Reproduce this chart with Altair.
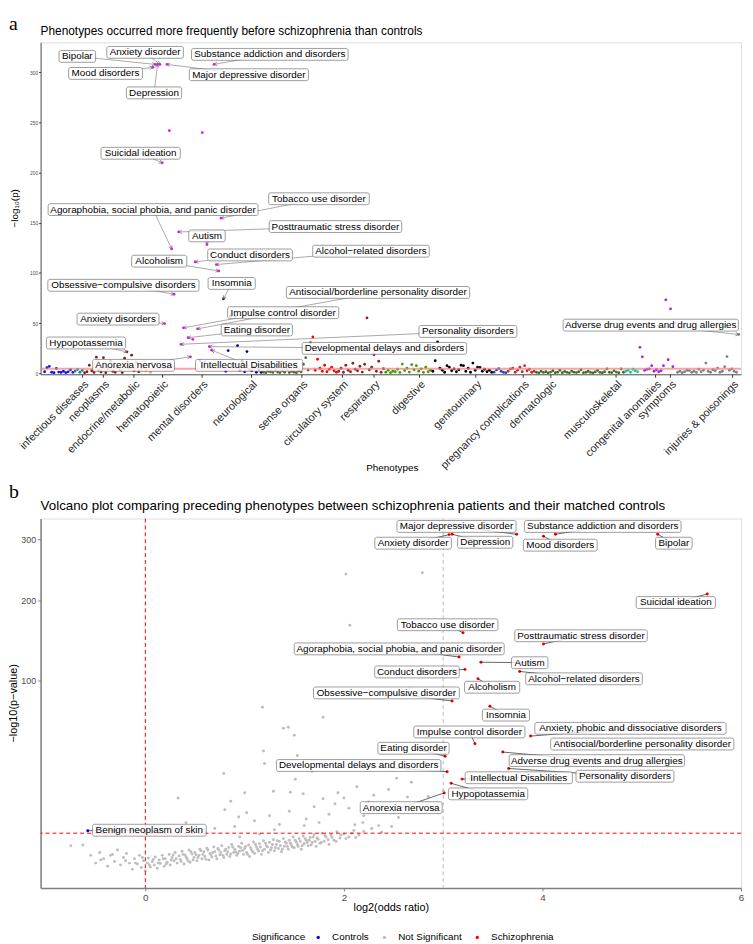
import json
import altair as alt
import pandas as pd

FONT = "Liberation Sans"
SERIF = "Liberation Serif"

# ======================= Panel a : PheWAS Manhattan =======================
a_groups = ["infectious diseases", "neoplasms", "endocrine/metabolic", "hematopoietic",
            "mental disorders", "neurological", "sense organs", "circulatory system",
            "respiratory", "digestive", "genitourinary", "pregnancy complications",
            "dermatologic", "musculoskeletal", "congenital anomalies", "symptoms",
            "injuries & poisonings"]
a_colors = ["#1010F0", "#008B8B", "#8B1A1A", "#F4A460", "#FF00FF", "#00008B", "#556B2F",
            "#FF0000", "#8B2323", "#3CA000", "#000000", "#2747B5", "#CD2626", "#3B6E22",
            "#00D39A", "#A020F0", "#808080"]

p_infectious = [1.5, 5.5, 6.8, 1.0, 0.5, 4.8, 1.2, 0.8, 2.0, 0.6, 1.4, 3.5, 0.9]
p_neoplasms = [2.2, 3.8, 1.0, 2.8]
p_endocrine = [0.5, 1.5, 8.0, 2.5, 0.8, 16.0, 3.0, 1.2, 15.5, 0.6, 4.5, 12.0, 2.0, 1.0,
               6.0, 3.5, 0.7, 15.0, 21.4, 5.0, 18.0, 2.5, 11.0, 1.5]
p_hematopoietic = [4.0, 12.0, 2.5, 7.0, 1.0]
p_mental = [305, 308, 308, 308, 209.8, 49.6, 308, 242, 124, 78.8, 90.3, 140.9, 28.9, 45.3,
            164, 35.5, 16.4, 33.8, 111, 44.3, 12.5, 240, 10.8, 128.4, 26.6, 23.0, 308,
            108.4, 102, 154.7]
p_neurological = [74.2, 2.0, 22.6, 57.0, 8.0, 57.0, 27.5, 3.0, 12.0, 1.5, 21.6, 4.0, 2.5,
                  6.0, 1.0, 3.5, 0.8]
p_sense = [1.0, 0.5, 2.0, 1.5, 0.8, 3.0, 1.2, 0.6, 2.5, 1.0, 4.0, 0.7, 1.8, 1.1, 0.5, 2.2,
           1.4, 9.0, 15.5, 3.2]
p_circulatory = [30.5, 36.2, 3.0, 14.0, 5.0, 2.0, 8.0, 1.5, 4.0, 6.0, 2.5, 1.0]
p_respiratory = [2.0, 5.0, 1.0, 8.0, 3.0, 1.5, 10.0, 4.0, 2.5, 7.0, 1.2, 9.0, 55.2, 3.5,
                 6.0, 18.4, 2.0, 12.0, 1.0, 4.5]
p_digestive = [1.0, 3.0, 0.5, 2.0, 1.5, 4.0, 0.8, 9.2, 2.7, 5.0, 1.2, 8.6, 3.5, 7.6, 2.0,
               4.3, 0.9, 6.0, 1.5, 3.0]
p_genitourinary = [2.0, 12.5, 31.2, 5.0, 3.0, 1.0, 7.6, 6.0, 2.5, 4.3, 1.5, 3.5, 8.0, 7.6,
                   2.0, 5.0, 1.0, 10.2, 3.0, 6.0, 5.9, 2.0, 4.0, 1.5, 3.0, 1.0]
p_pregnancy = [1.0, 3.3, 4.5, 2.0, 1.0, 0.5]
p_dermatologic = [2.0, 4.3, 5.0, 1.0, 3.0, 6.0, 1.5, 7.6, 2.5, 4.0, 1.0, 2.0]
p_musculoskeletal = [1.0, 0.4, 2.0, 0.8, 1.5, 0.3, 1.2, 2.5, 0.6, 1.0, 3.0, 0.5, 1.8, 0.9,
                     0.4, 2.2, 1.1, 0.7, 1.5, 3.5, 0.6, 1.0, 2.0, 0.8, 0.4, 1.3, 2.8, 0.9,
                     0.5, 1.6, 4.3, 1.0, 0.7, 2.4, 1.2, 0.5, 4.3, 1.0]
p_congenital = [2.0, 3.0, 1.0, 4.0, 2.5, 1.5]
p_symptoms = [25.9, 16.4, 3.0, 4.0, 4.3, 7.6, 2.0, 3.5, 1.5, 2.5, 7.6, 73.2, 13.5, 64.3,
              6.6, 50.2]
p_injuries = [1.0, 2.0, 0.5, 1.5, 3.0, 2.7, 1.0, 2.0, 0.8, 4.0, 1.5, 3.0, 10.2, 2.0, 1.0,
              3.5, 2.5, 5.2, 1.0, 2.0, 6.6, 16.7, 3.0, 4.3, 2.0, 1.0, 38.7]
a_values = [p_infectious, p_neoplasms, p_endocrine, p_hematopoietic, p_mental,
            p_neurological, p_sense, p_circulatory, p_respiratory, p_digestive,
            p_genitourinary, p_pregnancy, p_dermatologic, p_musculoskeletal,
            p_congenital, p_symptoms, p_injuries]

# x-axis label positions (phenotype rank)
a_tick_rank = [16.0, 24.8, 37.8, 49.9, 66.7, 87.7, 109.1, 126.3, 139.8, 159.1, 183.0,
               203.2, 214.9, 242.6, 259.4, 265.8, 292.2]

# labelled phenotypes: text, group, member index in group, label x (rank), label y
a_lab_text = ["Bipolar", "Anxiety disorder", "Substance addiction and disorders",
              "Mood disorders", "Major depressive disorder", "Depression",
              "Suicidal ideation", "Tobacco use disorder",
              "Agoraphobia, social phobia, and panic disorder",
              "Posttraumatic stress disorder", "Autism", "Conduct disorders",
              "Alcohol\u2212related disorders", "Alcoholism",
              "Obsessive\u2212compulsive disorders", "Insomnia",
              "Antisocial/borderline personality disorder", "Impulse control disorder",
              "Anxiety disorders", "Eating disorder", "Personality disorders",
              "Developmental delays and disorders", "Intellectual Disabilities",
              "Hypopotassemia", "Anorexia nervosa",
              "Adverse drug events and drug allergies"]
a_lab_group = (["mental disorders"] * 15 + ["neurological"] + ["mental disorders"] * 7
               + ["endocrine/metabolic", "mental disorders", "injuries & poisonings"])
a_lab_member = [1, 3, 26, 0, 6, 2, 4, 29, 8, 11, 23, 18, 27, 28, 9, 0, 13, 19, 5, 15, 12,
                24, 25, 18, 16, 26]
a_lab_x = [13.9, 42.7, 95.7, 25.9, 86.8, 46.5, 40.8, 116.6, 46.1, 123.6, 69.0, 87.3, 138.7,
           48.7, 33.5, 79.5, 141.7, 101.4, 31.2, 90.2, 179.9, 144.4, 86.9, 17.6, 37.8,
           257.6]
a_lab_y = [316, 320, 318, 299, 297.7, 279.6, 219.4, 174, 163.2, 146.3, 137, 118, 121.7,
           111.8, 87.7, 89.6, 80.6, 60.4, 54, 43.2, 41.7, 24.8, 7.9, 30.2, 7.9, 48]

threshold = 4.4

# ======================= Panel b : Volcano =======================
grey_x = [-0.55, -0.5, -0.46, -0.42, -0.38, -0.35, -0.31, -0.28, -0.25, -0.22, -0.19, -0.16,
          -0.13, -0.11, -0.08, -0.06, -0.04, -0.02, 0.0, 0.02, 0.03, 0.05, 0.07, 0.09, 0.1,
          0.12, 0.14, 0.15, 0.17, 0.19, 0.2, 0.22, 0.24, 0.25, 0.27, 0.29, 0.3, 0.32, 0.34,
          0.35, 0.37, 0.39, 0.4, 0.42, 0.44, 0.45, 0.47, 0.49, 0.5, 0.52, 0.54, 0.55, 0.57,
          0.59, 0.6, 0.62, 0.64, 0.65, 0.67, 0.69, 0.7, 0.72, 0.74, 0.75, 0.77, 0.79, 0.8,
          0.82, 0.84, 0.85, 0.87, 0.89, 0.9, 0.92, 0.94, 0.95, 0.97, 0.99, 1.0, 1.02, 1.04,
          1.05, 1.07, 1.09, 1.1, 1.12, 1.14, 1.15, 1.17, 1.19, 1.2, 1.22, 1.24, 1.25, 1.27,
          1.29, 1.3, 1.32, 1.34, 1.35, 1.37, 1.39, 1.4, 1.42, 1.44, 1.45, 1.47, 1.49, 1.5,
          1.52, 1.54, 1.55, 1.57, 1.59, 1.6, 1.62, 1.64, 1.66, 1.68, 1.7, 1.72, 1.74, 1.76,
          1.78, 1.8, 1.82, 1.85, 1.87, 1.9, 1.93, 1.96, 2.0, 2.05, 2.1, 2.15,
          -0.75, -0.63, 0.33, 0.41, 0.79, 0.86, 0.8, 1.0, 0.94, 1.02, 1.18, 1.19, 1.2, 1.29,
          1.39, 1.44, 1.5, 1.53, 1.46, 1.51, 1.79, 1.68, 1.59, 1.94, 2.13, 2.0, 1.91, 2.19,
          2.11, 1.79, 2.66, 2.65, 2.53, 2.68, 2.64, 3.0, 2.25, 2.4, 2.62, 2.51, 2.02, 2.06,
          2.79, 0.6, 0.7, 0.9, 1.1, 1.25, 1.35, 1.45, 1.62, 1.7, 1.85, 2.05, 2.2, 2.3, 2.45,
          2.55, 2.7, 2.85, 2.9, 1.15, 0.95, 1.3, 1.6, 1.75, 2.35,
          -0.45, -0.33, -0.2, -0.1, -0.03, 0.04, 0.08, 0.13, 0.18, 0.21, 0.26, 0.28, 0.31,
          0.36, 0.38, 0.41, 0.43, 0.46, 0.48, 0.51, 0.53, 0.56, 0.58, 0.61, 0.63, 0.66,
          0.68, 0.71, 0.73, 0.76, 0.78, 0.81, 0.83, 0.86, 0.88, 0.91, 0.93, 0.96, 0.98,
          1.01, 1.03, 1.06, 1.08, 1.11, 1.13, 1.16, 1.18, 1.21, 1.23, 1.26, 1.28, 1.31,
          1.33, 1.36, 1.38, 1.41, 1.43, 1.46, 1.48, 1.51, 1.53, 1.56, 1.58, 1.61, 1.63,
          1.65, 1.67, 1.69, 1.71, 1.73, 1.77, 1.81, 1.84, 1.88, 1.92, 1.97, 2.02, 2.08,
          2.12, 2.2, 2.28, 2.38, 2.48]
grey_y = [0.9, 0.3, 1.2, 0.6, 0.15, 0.9, 0.4, 1.5, 0.2, 0.7, 1.1, 0.3, 0.05, 0.6, 0.25, 0.9,
          0.1, 0.45, 0.02, 0.3, 0.65, 0.12, 0.4, 0.2, 0.75, 0.08, 0.5, 0.28, 0.9, 0.15, 0.6,
          0.35, 1.0, 0.2, 0.7, 0.45, 1.2, 0.3, 0.85, 0.55, 1.35, 0.25, 0.95, 0.6, 1.5, 0.35,
          1.05, 0.7, 1.2, 0.45, 0.9, 1.6, 0.6, 1.3, 0.8, 1.75, 0.5, 1.1, 0.75, 1.9, 1.3, 0.6,
          1.5, 0.95, 2.1, 0.7, 1.4, 1.0, 1.85, 0.8, 2.3, 1.2, 1.6, 0.9, 2.0, 1.35, 2.5, 1.0,
          1.7, 1.2, 2.2, 0.8, 1.5, 2.7, 1.1, 1.9, 1.35, 2.4, 1.0, 2.9, 1.6, 2.1, 1.2, 2.6,
          1.8, 3.1, 1.4, 2.3, 1.7, 2.8, 1.3, 3.3, 2.0, 2.5, 1.6, 3.0, 2.2, 3.6, 1.8, 2.7, 2.0,
          3.3, 1.6, 3.8, 2.4, 3.0, 2.1, 3.5, 2.6, 4.1, 2.0, 3.2, 2.5, 4.4, 2.8, 3.6, 2.3, 4.0,
          3.0, 4.7, 3.4, 4.2, 3.6, 5.0, 4.0,
          2.1, 2.2, 15.4, 7.0, 26.9, 14.1, 11.0, 17.6, 8.6, 10.0, 74.3, 40.4, 32.6, 18.2,
          56.7, 57.5, 51.4, 37.5, 17.8, 23.9, 65.6, 28.1, 17.1, 17.6, 20.3, 15.4, 13.1, 7.0,
          6.4, 15.1, 92.2, 29.3, 24.5, 22.4, 15.8, 18.5, 13.8, 13.1, 13.1, 10.2, 240.8,
          165.6, 243.0, 4.5, 5.5, 6.0, 7.5, 9.0, 6.5, 10.5, 8.0, 12.0, 9.5, 11.5, 9.0, 16.5,
          19.0, 8.5, 12.0, 16.0, 10.5, 4.2, 3.6, 5.2, 6.2, 7.0, 6.2,
          0.5, 1.0, 0.45, 0.3, 0.7, 0.2, 0.55, 0.3, 0.6, 0.25, 0.5, 0.95, 0.6, 0.4, 1.0,
          0.75, 0.45, 1.3, 0.5, 0.95, 0.7, 1.4, 1.0, 0.55, 1.5, 0.95, 1.2, 0.85, 1.7, 1.2,
          0.9, 1.6, 1.3, 1.05, 1.9, 1.3, 1.1, 1.8, 1.45, 2.0, 1.0, 1.8, 1.3, 2.3, 1.6, 1.9,
          1.4, 2.5, 1.9, 1.5, 2.3, 1.8, 2.9, 2.1, 1.6, 2.7, 2.0, 2.5, 1.9, 3.0, 2.3, 2.8,
          2.1, 3.3, 2.6, 3.0, 2.2, 3.6, 2.8, 3.4, 2.6, 3.9, 3.1, 3.5, 2.8, 4.0, 3.3, 4.4,
          3.5, 4.8, 5.5, 4.6, 6.0]

b_lab_text = ["Major depressive disorder", "Anxiety disorder", "Depression",
              "Substance addiction and disorders", "Mood disorders", "Bipolar",
              "Suicidal ideation", "Tobacco use disorder", "Posttraumatic stress disorder",
              "Agoraphobia, social phobia, and panic disorder", "Autism",
              "Conduct disorders", "Alcohol\u2212related disorders", "Alcoholism",
              "Obsessive\u2212compulsive disorder", "Insomnia",
              "Anxiety, phobic and dissociative disorders",
              "Antisocial/borderline personality disorder", "Impulse control disorder",
              "Eating disorder", "Adverse drug events and drug allergies",
              "Developmental delays and disorders", "Intellectual Disabilities",
              "Personality disorders", "Hypopotassemia", "Anorexia nervosa",
              "Benign neoplasm of skin"]
b_x = [3.74, 3.06, 3.09, 4.13, 4.01, 5.16, 5.66, 3.20, 4.01, 3.16, 3.38, 3.22, 3.77, 3.35,
       3.09, 3.47, 3.88, 4.20, 3.32, 3.02, 3.60, 3.04, 3.19, 3.66, 3.08, 3.01, -0.58]
b_y = [309, 308.5, 309, 309, 305.5, 309, 210, 155.7, 141.6, 125.9, 120, 112, 109.8, 102, 80,
       75.2, 50.8, 46.5, 45.3, 37, 39.7, 27.9, 24, 29.7, 21.9, 17.5, 4.96]
b_lab_x = [3.134, 2.697, 3.423, 4.607, 4.179, 5.323, 5.343, 3.045, 4.388, 2.557, 3.871,
           2.736, 4.418, 3.493, 2.428, 3.632, 4.886, 5.005, 3.264, 2.701, 4.547, 2.149,
           3.761, 4.831, 3.453, 2.577, 0.04]
b_lab_y = [323.6, 293.1, 294.8, 323.6, 289.6, 293.1, 197.3, 166.3, 151.9, 135.6, 119.4,
           109.2, 101.9, 93.3, 87.7, 67.5, 56.7, 45.1, 53.9, 42.2, 34.3, 31.4, 24.7, 25.5,
           17.1, 11.7, 5.07]
b_sig = ["Schizophrenia"] * 26 + ["Controls"]
sig_domain = ["Controls", "Not Significant", "Schizophrenia"]
sig_colors = ["#0000FF", "#BEBEBE", "#FF0000"]

# ======================= build tables =======================
rows, starts, r = [], {}, 0
for g, vals in zip(a_groups, a_values):
    starts[g] = r
    for v in vals:
        rows.append({"rank": r, "group": g, "logp": v})
        r += 1
dfa = pd.DataFrame(rows)
n_a = r
gidx = {g: i for i, g in enumerate(a_groups)}
dfal = pd.DataFrame({
    "label": a_lab_text,
    "px": [starts[g] + m for g, m in zip(a_lab_group, a_lab_member)],
    "py": [a_values[gidx[g]][m] for g, m in zip(a_lab_group, a_lab_member)],
    "lx": a_lab_x, "ly": a_lab_y,
})

dfb = pd.concat([
    pd.DataFrame({"x": grey_x, "y": grey_y, "sig": "Not Significant"}),
    pd.DataFrame({"x": b_x, "y": b_y, "sig": b_sig}),
], ignore_index=True)
dfbl = pd.DataFrame({"label": b_lab_text, "px": b_x, "py": b_y,
                     "lx": b_lab_x, "ly": b_lab_y})

# ======================= geometry =======================
W = 709
A_H = 336
B_H = 374
a_xdom = [-1.7, n_a - 1 + 0.97]
a_ydom = [-1, 330]
kxa = W / (a_xdom[1] - a_xdom[0])
kya = A_H / (a_ydom[1] - a_ydom[0])
b_xdom = [-1.055, 6.0]
b_ydom = [-0.55, 338.5]
kxb = W / (b_xdom[1] - b_xdom[0])
kyb = B_H / (b_ydom[1] ** 0.5 + (-b_ydom[0]) ** 0.5)

NARROW = "length(replace(datum.label, regexp('[^ijlftrI ,/()]', 'g'), ''))"
CAPS = "length(replace(datum.label, regexp('[^A-Z]', 'g'), ''))"
WIDE = "length(replace(datum.label, regexp('[^mMwW]', 'g'), ''))"
TW = (f"2.7*{NARROW} + 5.4*(length(datum.label) - {NARROW}) + 1.3*{CAPS} + 2.6*{WIDE}")

xa = alt.Scale(domain=a_xdom, nice=False, zero=False)
ya = alt.Scale(domain=a_ydom, nice=False, zero=False)
xb = alt.Scale(domain=b_xdom, nice=False, zero=False)
yb = alt.Scale(type="sqrt", domain=b_ydom, nice=False, zero=False)

LABEL_STROKE = "#5a5a5a"
ARROW = "M -1 -0.55 L 0 0 L -1 0.55"

a_xaxis = alt.Axis(
    values=a_tick_rank,
    labelExpr=f"{json.dumps(a_groups)}[indexof({json.dumps(a_tick_rank)}, datum.value)]",
    labelAngle=-45, labelAlign="right", labelBaseline="top", labelFontSize=11,
    labelFont=FONT, labelColor="#262626", labelPadding=1, labelOverlap=False,
    labelFlush=False, labelBound=False, tickSize=3, tickColor="#333333",
    domainColor="#333333", domainWidth=0.8, grid=False, title=None)
a_yaxis = alt.Axis(values=[0, 50, 100, 150, 200, 250, 300], labelFontSize=5,
                   labelColor="#4d4d4d", labelPadding=1, tickSize=2,
                   tickColor="#333333", domainColor="#333333", domainWidth=0.8,
                   grid=False, title=None)
b_xaxis = alt.Axis(values=[0, 2, 4, 6], labelFontSize=10, labelColor="#4d4d4d",
                   labelPadding=2, labelFlush=False, tickSize=3, tickColor="#7f7f7f",
                   domainColor="#7f7f7f", domainWidth=1.5, grid=False, title=None)
b_yaxis = alt.Axis(values=[100, 200, 300], labelFontSize=9, labelColor="#4d4d4d",
                   labelPadding=2, labelFlush=False, tickSize=3, tickColor="#7f7f7f",
                   domainColor="#7f7f7f", domainWidth=1.5, grid=False, title=None)


def AX(f):
    return alt.X(f, scale=xa, axis=a_xaxis)


def AY(f):
    return alt.Y(f, scale=ya, axis=a_yaxis)


def BX(f):
    return alt.X(f, scale=xb, axis=b_xaxis)


def BY(f):
    return alt.Y(f, scale=yb, axis=b_yaxis)


def txt(text, x, y, size=10, font=FONT, align="left", baseline="middle", angle=0,
        color="black"):
    return alt.Chart(pd.DataFrame({"t": [text]})).mark_text(
        align=align, baseline=baseline, font=font, fontSize=size, angle=angle,
        color=color).encode(x=alt.value(x), y=alt.value(y), text="t:N")


# ----- panel a layers -----
a_thr = alt.Chart(pd.DataFrame({"t": [threshold]})).mark_rule(
    color="#F08080", opacity=0.7, strokeWidth=2).encode(y=AY("t:Q"))
a_pts = alt.Chart(dfa).mark_circle(size=8, opacity=1).encode(
    x=AX("rank:Q"), y=AY("logp:Q"),
    color=alt.Color("group:N", scale=alt.Scale(domain=a_groups, range=a_colors),
                    legend=None))

a_lab = alt.Chart(dfal).transform_calculate(tw=TW).transform_calculate(
    bx1=f"datum.lx - (datum.tw/2 + 3)/{kxa}",
    bx2=f"datum.lx + (datum.tw/2 + 3)/{kxa}",
    by1=f"datum.ly - 6/{kya}",
    by2=f"datum.ly + 6/{kya}",
    ang=f"(atan2(-(datum.py - datum.ly)*{kya}, (datum.px - datum.lx)*{kxa})*180/PI + 360) % 360",
)
a_seg = a_lab.mark_rule(color="#6e6e6e", strokeWidth=0.6).encode(
    x=AX("lx:Q"), y=AY("ly:Q"), x2="px:Q", y2="py:Q")
a_head = a_lab.mark_point(shape=ARROW, filled=False, size=40, color="#6e6e6e",
                          strokeWidth=0.7, opacity=1).encode(
    x=AX("px:Q"), y=AY("py:Q"), angle=alt.Angle("ang:Q", scale=None))
a_box = a_lab.mark_rect(fill="white", fillOpacity=0.8, stroke=LABEL_STROKE,
                        strokeWidth=0.6, cornerRadius=2).encode(
    x=AX("bx1:Q"), x2="bx2:Q", y=AY("by1:Q"), y2="by2:Q")
a_txt = a_lab.mark_text(font=FONT, fontSize=10, color="black").encode(
    x=AX("lx:Q"), y=AY("ly:Q"), text="label:N")

panel_a = alt.layer(
    a_pts, a_thr, a_seg, a_head, a_box, a_txt,
    txt("a", -32, -28, size=20, font=SERIF, baseline="top"),
    txt("Phenotypes occurred more frequently before schizophrenia than controls", 0, -11,
        size=12),
    txt("\u2212log\u2081\u2080(p)", -26, 168, size=10, align="center", angle=270),
    txt("Phenotypes", 356, 431, size=10, align="center"),
).properties(width=W, height=A_H)

# ----- panel b layers -----
b_v0 = alt.Chart(pd.DataFrame({"v": [0.0]})).mark_rule(
    color="#FF0000", strokeDash=[4, 3], strokeWidth=1).encode(x=BX("v:Q"))
b_v3 = alt.Chart(pd.DataFrame({"v": [3.0]})).mark_rule(
    color="#BEBEBE", strokeDash=[4, 3], strokeWidth=1).encode(x=BX("v:Q"))
b_h = alt.Chart(pd.DataFrame({"v": [threshold]})).mark_rule(
    color="#FF0000", strokeDash=[4, 3], strokeWidth=1).encode(y=BY("v:Q"))

b_pts = alt.Chart(dfb).mark_circle(size=9, opacity=1).encode(
    x=BX("x:Q"), y=BY("y:Q"),
    color=alt.Color("sig:N", scale=alt.Scale(domain=sig_domain, range=sig_colors),
                    legend=alt.Legend(
                        title="Significance", orient="none", legendX=214, legendY=419,
                        direction="horizontal", titleOrient="left",
                        titleFontWeight="normal", titleFontSize=10, titleFont=FONT,
                        titleColor="black", labelFontSize=10, labelFont=FONT,
                        labelColor="black", symbolType="circle", symbolSize=12,
                        symbolStrokeWidth=0, labelOffset=9, columnPadding=10,
                        titlePadding=8)))

hb = 6 / kyb
b_lab = alt.Chart(dfbl).transform_calculate(tw=TW).transform_calculate(
    bx1=f"datum.lx - (datum.tw/2 + 3)/{kxb}",
    bx2=f"datum.lx + (datum.tw/2 + 3)/{kxb}",
    by1=f"pow(max(sqrt(datum.ly) - {hb}, 0), 2)",
    by2=f"pow(sqrt(datum.ly) + {hb}, 2)",
)
b_seg = b_lab.mark_rule(color="black", strokeWidth=0.6).encode(
    x=BX("lx:Q"), y=BY("ly:Q"), x2="px:Q", y2="py:Q")
b_box = b_lab.mark_rect(fill="white", fillOpacity=0.8, stroke=LABEL_STROKE,
                        strokeWidth=0.6, cornerRadius=2).encode(
    x=BX("bx1:Q"), x2="bx2:Q", y=BY("by1:Q"), y2="by2:Q")
b_txt = b_lab.mark_text(font=FONT, fontSize=10, color="black").encode(
    x=BX("lx:Q"), y=BY("ly:Q"), text="label:N")

panel_b = alt.layer(
    b_pts, b_v0, b_v3, b_h, b_seg, b_box, b_txt,
    txt("b", -32, -21, size=20, font=SERIF, baseline="alphabetic"),
    txt("Volcano plot comparing preceding phenotypes between schizophrenia patients "
        "and their matched controls", 0, -13, size=13.5),
    txt("\u2212log10(p\u2212value)", -26.5, 187, size=11, align="center", angle=270),
    txt("log2(odds ratio)", 355, 394, size=11, align="center"),
).properties(width=W, height=B_H)

chart = alt.vconcat(panel_a, panel_b, spacing=146, bounds="flush").resolve_scale(
    color="independent"
).properties(padding=0).configure_view(stroke=None).configure(font=FONT)

chart.save("out.html", embed_options={"renderer": "svg", "actions": False})
